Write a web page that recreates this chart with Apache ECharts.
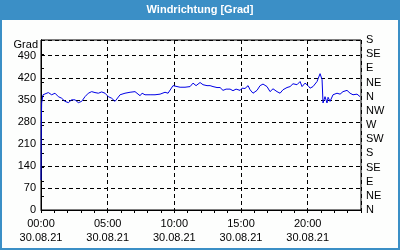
<!DOCTYPE html>
<html><head><meta charset="utf-8">
<script src="https://cdn.jsdelivr.net/npm/echarts@6/dist/echarts.min.js"></script>
<style>html,body{margin:0;padding:0;background:#fff}#c{width:400px;height:250px}</style>
</head><body><div id="c"></div>
<script>
var hours = [0,0.02,0.05,0.15,0.3,0.55,0.8,1.05,1.3,1.55,1.8,2.05,2.3,2.55,2.8,3.05,3.3,3.55,3.8,4.05,4.3,4.55,4.8,5.05,5.3,5.55,5.68,5.93,6.3,6.68,7.05,7.43,7.58,7.8,8.18,8.55,8.93,9.3,9.53,9.68,9.9,10.05,10.43,10.8,11.18,11.4,11.63,11.93,12.15,12.45,12.68,12.9,13.2,13.43,13.65,13.88,14.18,14.4,14.63,14.93,15.08,15.3,15.53,15.68,15.9,16.2,16.43,16.65,16.95,17.18,17.4,17.7,17.93,18.15,18.45,18.68,18.9,19.2,19.43,19.58,19.8,20.03,20.18,20.4,20.7,20.93,21.08,21.15,21.3,21.45,21.53,21.68,21.9,22.2,22.43,22.65,22.95,23.18,23.4,23.7,23.93];
var deg = [95,270,340,366,372,373,366,371,360,355,345,341,350,350,341,345,360,371,376,373,371,375,371,360,355,345,341,366,371,374,376,363,371,366,366,366,368,374,371,368,395,392,390,390,392,403,395,405,398,395,395,392,389,389,380,384,384,379,384,380,387,386,395,382,371,380,395,400,392,376,385,376,371,382,389,392,401,398,408,392,403,395,387,392,408,433,414,340,360,340,358,345,366,371,368,376,380,371,366,368,360];
var compass = ['N','NE','E','SE','S','SW','W','NW','N','NE','E','SE','S'];
var dateLabel = '30.08.21';
var title = 'Windrichtung [Grad]';
var unit = 'Grad';

var data = hours.map(function(h,i){return [h,deg[i]];});
var font = 'Liberation Sans, Arial, sans-serif';
function pad(n){return (n<10?'0':'')+n;}
var chart = echarts.init(document.getElementById('c'), null, {renderer:'canvas'});
chart.setOption({
  animation:false,
  backgroundColor:'#fdfefd',
  grid:{left:41,right:39,top:40,bottom:40,show:true,borderColor:'#000',borderWidth:1,backgroundColor:'transparent'},
  graphic:[
    {type:'rect',shape:{x:0,y:0,width:400,height:20},style:{fill:'#3b8fc6'},z:10},
    {type:'rect',shape:{x:0,y:0,width:2,height:250},style:{fill:'#3b8fc6'},z:10},
    {type:'rect',shape:{x:398,y:0,width:2,height:250},style:{fill:'#3b8fc6'},z:10},
    {type:'rect',shape:{x:0,y:248,width:400,height:2},style:{fill:'#3b8fc6'},z:10},
    {type:'text',left:'center',top:4,style:{text:title,fill:'#fff',font:'bold 11px '+font},z:11},
    {type:'text',right:362,top:39,style:{text:unit,fill:'#000',font:'11px '+font,textAlign:'right'},z:11}
  ],
  xAxis:[{
    type:'value',min:0,max:24,interval:5,
    axisLine:{show:true,lineStyle:{color:'#000',width:1}},
    axisTick:{show:false},
    splitLine:{show:true,lineStyle:{color:'#000',type:[4,3],width:1}},
    axisLabel:{showMaxLabel:false,color:'#000',fontSize:11,fontFamily:font,margin:7,lineHeight:14,
      formatter:function(v){return pad(v)+':00\n'+dateLabel;}}
  },{
    type:'value',min:0,max:24,interval:1,position:'bottom',
    axisLine:{show:false},
    axisTick:{show:true,length:3,lineStyle:{color:'#000'}},
    axisLabel:{show:false},splitLine:{show:false}
  }],
  yAxis:[{
    type:'value',min:0,max:540,interval:70,
    axisLine:{show:true,lineStyle:{color:'#000',width:1}},
    axisTick:{show:false},
    splitLine:{show:true,lineStyle:{color:'#000',type:[4,3],width:1}},
    axisLabel:{showMaxLabel:false,color:'#000',fontSize:11,fontFamily:font,margin:5}
  },{
    type:'value',min:0,max:540,interval:45,position:'right',
    axisLine:{show:true,lineStyle:{color:'#000',width:1}},
    axisTick:{show:true,length:3,lineStyle:{color:'#000'}},
    splitLine:{show:false},
    axisLabel:{color:'#000',fontSize:11,fontFamily:font,margin:5,
      formatter:function(v){return compass[Math.round(v/45)];}}
  }],
  series:[{
    type:'line',xAxisIndex:0,yAxisIndex:0,data:data,showSymbol:false,
    lineStyle:{color:'#0000e6',width:1},z:5
  }]
});
</script></body></html>
